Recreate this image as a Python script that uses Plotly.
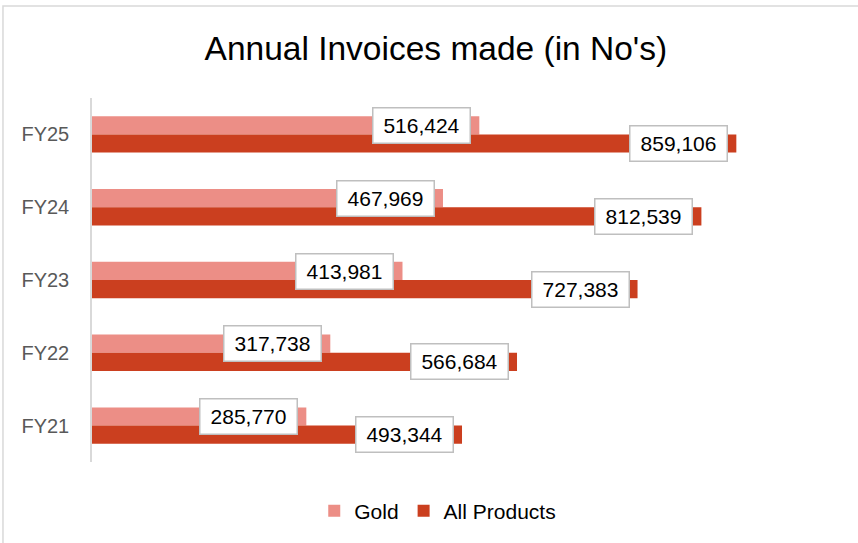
import plotly.graph_objects as go

# data
years = ["FY21", "FY22", "FY23", "FY24", "FY25"]
gold = [285770, 317738, 413981, 467969, 516424]
all_products = [493344, 566684, 727383, 812539, 859106]

GOLD_COLOR = "#EC8E86"
ALL_COLOR = "#CB3F1F"
FONT = "Liberation Sans"


def build_figure():
    fig = go.Figure()

    fig.add_trace(go.Bar(
        y=years, x=gold, name="Gold", orientation="h",
        marker=dict(color=GOLD_COLOR, line=dict(width=0)),
        width=0.25, offset=0,
    ))
    fig.add_trace(go.Bar(
        y=years, x=all_products, name="All Products", orientation="h",
        marker=dict(color=ALL_COLOR, line=dict(width=0)),
        width=0.25, offset=-0.25,
    ))

    # boxed data labels sitting at the inside end of each bar
    for series, shift in [(gold, 9), (all_products, -9)]:
        for yr, val in zip(years, series):
            fig.add_annotation(
                x=val, y=yr, xref="x", yref="y",
                text=f"{val:,}", showarrow=False,
                xanchor="right", yanchor="middle",
                xshift=-8, yshift=shift,
                font=dict(family=FONT, size=21, color="#000000"),
                bgcolor="#FFFFFF", bordercolor="#BFBFBF",
                borderwidth=1.5, borderpad=4, width=88, height=26,
            )

    # faint outer frame like the exported chart area
    fig.add_shape(
        type="rect", xref="paper", yref="paper",
        x0=-0.1187, x1=1.2, y0=-0.4, y1=1.2527,
        line=dict(color="#D9D9D9", width=1.5), layer="below",
    )

    fig.update_layout(
        width=858, height=543,
        margin=dict(l=92, r=16, t=98, b=81),
        paper_bgcolor="white", plot_bgcolor="white",
        barmode="overlay",
        title=dict(
            text="Annual Invoices made (in No's)",
            x=0.508, xanchor="center", y=1 - 48 / 543, yanchor="middle",
            font=dict(family=FONT, size=33.5, color="#000000"),
        ),
        xaxis=dict(range=[0, 1000000], visible=False, fixedrange=True),
        yaxis=dict(
            categoryorder="array", categoryarray=years,
            showline=True, linecolor="#D9D9D9", linewidth=1.5,
            ticks="", showgrid=False, ticklabelstandoff=17,
            tickfont=dict(family=FONT, size=20, color="#595959"),
        ),
        legend=dict(
            orientation="h", x=0.461, xanchor="center",
            y=-0.1346, yanchor="middle",
            font=dict(family=FONT, size=21, color="#000000"),
            itemwidth=30, traceorder="normal",
        ),
        showlegend=True,
    )
    return fig


if __name__ == "__main__":
    fig = build_figure()
    # drop the default body margin so the figure sits at the page origin
    fig.write_html(
        "out.html",
        config={"displayModeBar": False},
        post_script="document.body.style.margin='0';",
    )
